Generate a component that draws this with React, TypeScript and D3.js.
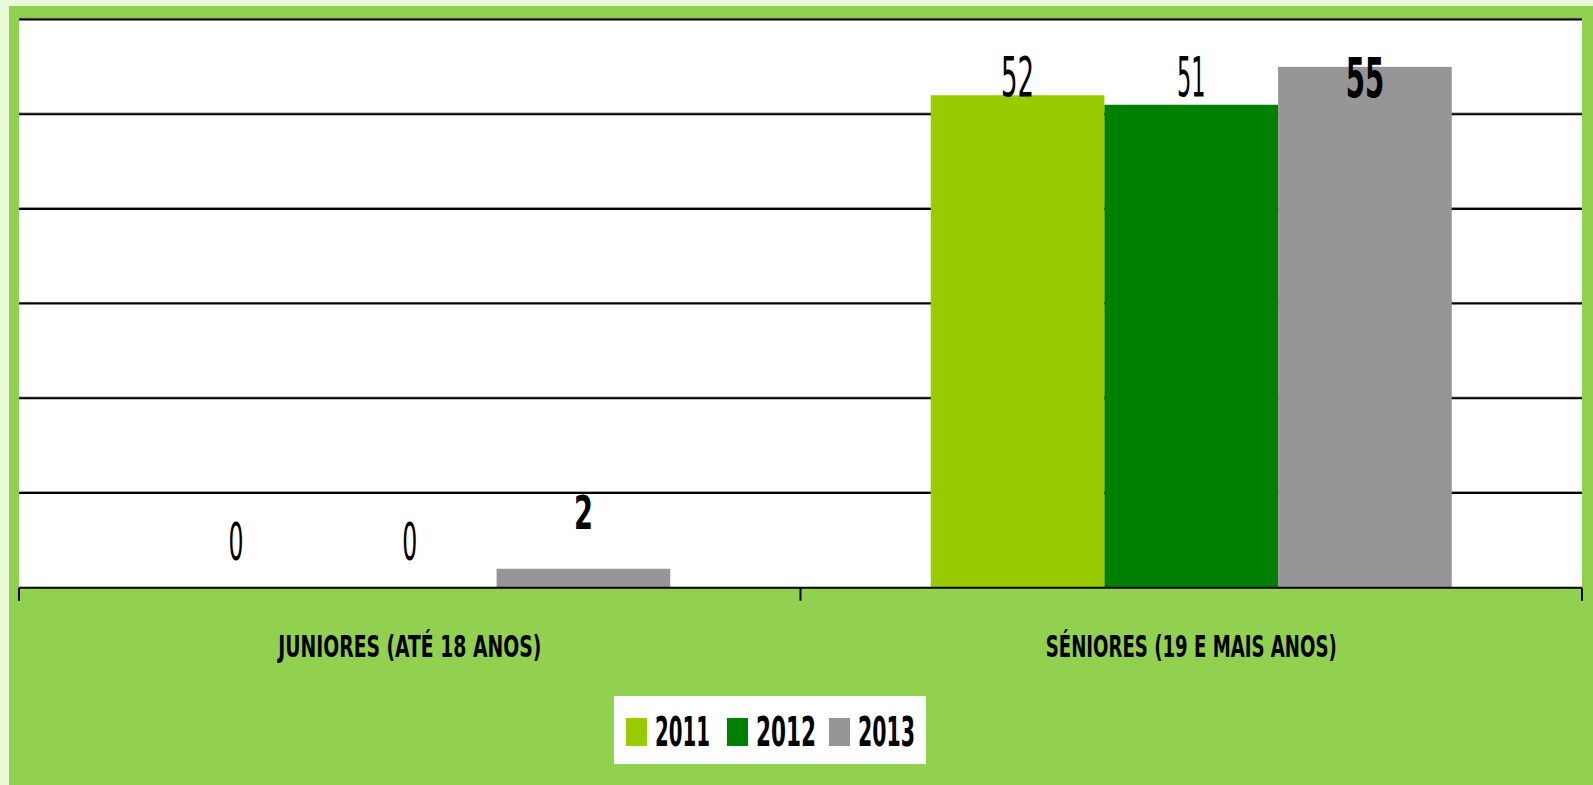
import React, { useEffect } from "react";
import * as d3 from "d3";

const categories = ["JUNIORES (ATÉ 18 ANOS)", "SÉNIORES (19 E MAIS ANOS)"];
const years = ["2011", "2012", "2013"];
const values2011 = [0, 52];
const values2012 = [0, 51];
const values2013 = [2, 55];
const yTicks = [0, 10, 20, 30, 40, 50, 60];
// label styling: bold flag, lift of baseline above bar top (px), text width (px)
const labelBold2011 = [false, false];
const labelBold2012 = [false, false];
const labelBold2013 = [true, true];
const labelLift2011 = [28, -1];
const labelLift2012 = [28, 8.5];
const labelLift2013 = [40, -30];
const labelWidth2011 = [15, 33];
const labelWidth2012 = [15, 28.5];
const labelWidth2013 = [19, 38.5];
const categoryLabelWidths = [263, 291];
const legendTextWidths = [55, 60, 57];

const colors = ["#99CC00", "#008000", "#969696"];
const W = 1593;
const H = 785;
const FONT = "'Liberation Sans Narrow', 'DejaVu Sans Condensed', 'Liberation Sans', sans-serif";

export default function App() {
  useEffect(() => {
    document.body.style.margin = "0";
  }, []);

  const plot = { left: 19, right: 1582, top: 19.5, bottom: 587.7 };
  const x0 = d3.scaleBand<string>().domain(categories).range([plot.left, plot.right]).padding(0);
  const x1 = d3
    .scaleBand<string>()
    .domain(years)
    .range([0, x0.bandwidth()])
    .paddingInner(0)
    .paddingOuter(0.75);
  const y = d3.scaleLinear().domain([0, 60]).range([plot.bottom, plot.top]);

  const series = [
    { year: years[0], values: values2011, bold: labelBold2011, lift: labelLift2011, lw: labelWidth2011, color: colors[0] },
    { year: years[1], values: values2012, bold: labelBold2012, lift: labelLift2012, lw: labelWidth2012, color: colors[1] },
    { year: years[2], values: values2013, bold: labelBold2013, lift: labelLift2013, lw: labelWidth2013, color: colors[2] },
  ];

  const tickXs = [...categories.map((c) => x0(c)!), plot.right];

  const legend = { x: 614, y: 696, w: 312, h: 68 };
  const legendItemStarts = [626, 727, 829];

  return (
    <svg width={W} height={H} style={{ display: "block" }}>
      <rect x={0} y={0} width={W} height={H} fill="#EAFAD8" />
      <rect x={9} y={6} width={W - 9} height={H - 6} fill="#92D050" />
      <rect
        x={plot.left}
        y={18.3}
        width={plot.right - plot.left}
        height={plot.bottom - 18.3}
        fill="#FFFFFF"
      />
      {yTicks.slice(1).map((t) => (
        <g key={t}>
          <line x1={plot.left} x2={plot.right} y1={y(t) - 1.2} y2={y(t) - 1.2} stroke="#808080" strokeWidth={1} />
          <line x1={plot.left} x2={plot.right} y1={y(t)} y2={y(t)} stroke="#000" strokeWidth={2} />
        </g>
      ))}
      {categories.map((c, ci) =>
        series.map((s) => {
          const bx = x0(c)! + x1(s.year)!;
          const by = y(s.values[ci]);
          return (
            <rect key={c + s.year} x={bx} y={by} width={x1.bandwidth()} height={plot.bottom - by} fill={s.color} />
          );
        })
      )}
      <line x1={plot.left} x2={plot.right} y1={plot.bottom} y2={plot.bottom} stroke="#000" strokeWidth={2} />
      {tickXs.map((tx, i) => (
        <line key={i} x1={tx} x2={tx} y1={plot.bottom} y2={plot.bottom + 13} stroke="#000" strokeWidth={2} />
      ))}
      {categories.map((c, ci) =>
        series.map((s) => {
          const cx = x0(c)! + x1(s.year)! + x1.bandwidth() / 2;
          const by = y(s.values[ci]) - s.lift[ci];
          const bold = s.bold[ci];
          const fs = s.values[ci] === 0 ? 51 : bold && s.values[ci] < 10 ? 47 : 55;
          return (
            <text
              key={"l" + c + s.year}
              x={cx}
              y={by}
              textAnchor="middle"
              fontFamily={FONT}
              fontWeight={bold ? "bold" : "normal"}
              fontSize={fs}
              textLength={s.lw[ci]}
              lengthAdjust="spacingAndGlyphs"
              fill="#000"
            >
              {s.values[ci]}
            </text>
          );
        })
      )}
      {categories.map((c, ci) => (
        <text
          key={"c" + c}
          x={x0(c)! + x0.bandwidth() / 2}
          y={657}
          textAnchor="middle"
          fontFamily={FONT}
          fontWeight="bold"
          fontSize={30}
          textLength={categoryLabelWidths[ci]}
          lengthAdjust="spacingAndGlyphs"
          fill="#000"
        >
          {c}
        </text>
      ))}
      <rect x={legend.x} y={legend.y} width={legend.w} height={legend.h} fill="#FFFFFF" />
      {series.map((s, i) => (
        <g key={"lg" + s.year}>
          <rect x={legendItemStarts[i]} y={718} width={21} height={28} fill={s.color} />
          <text
            x={legendItemStarts[i] + 29}
            y={746}
            fontFamily={FONT}
            fontWeight="bold"
            fontSize={40}
            textLength={legendTextWidths[i]}
            lengthAdjust="spacingAndGlyphs"
            fill="#000"
          >
            {s.year}
          </text>
        </g>
      ))}
    </svg>
  );
}
